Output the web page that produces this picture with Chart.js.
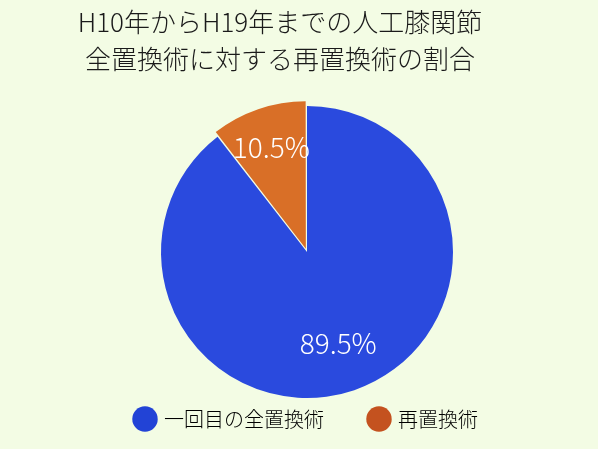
<!DOCTYPE html>
<html>
<head>
<meta charset="utf-8">
<script src="https://cdn.jsdelivr.net/npm/chart.js@4"></script>
<style>
  html, body { margin: 0; padding: 0; background: #f3fce4; }
  #wrap { position: relative; width: 598px; height: 449px; }
  #title {
    position: absolute; left: 0; top: 2px; width: 560px;
    text-align: center; font-family: "Noto Sans CJK JP", sans-serif;
    font-weight: 300; font-size: 26px; line-height: 37px; color: #1a1a1a;
  }
</style>
</head>
<body>
<div id="wrap">
  <canvas id="pieChart" width="598" height="449"></canvas>
  <div id="title">H10年からH19年までの人工膝関節<br>全置換術に対する再置換術の割合</div>
</div>
<script>
// Chart data
const categories = ['一回目の全置換術', '再置換術'];
const shares = [89.5, 10.5];
const sliceColors = ['#2a4ade', '#d96f27'];
const legendColors = ['#2243d6', '#c4521f'];
const sliceOffsets = [0, 14];

// draw the % text on each slice
const sliceLabels = {
    id: 'sliceLabels',
    afterDatasetsDraw(chart) {
        const ctx = chart.ctx;
        const meta = chart.getDatasetMeta(0);
        ctx.save();
        ctx.font = '300 28px "Noto Sans CJK JP", sans-serif';
        ctx.fillStyle = '#ffffff';
        ctx.textAlign = 'center';
        ctx.textBaseline = 'middle';
        meta.data.forEach((arc, i) => {
            const mid = (arc.startAngle + arc.endAngle) / 2;
            const r = arc.outerRadius * 0.66 + sliceOffsets[i];
            const x = arc.x + Math.cos(mid) * r;
            const y = arc.y + Math.sin(mid) * r;
            ctx.fillText(shares[i].toFixed(1) + '%', x, y);
        });
        ctx.restore();
    }
};

new Chart(document.getElementById('pieChart'), {
    type: 'pie',
    data: {
        labels: categories,
        datasets: [{
            data: shares,
            backgroundColor: sliceColors,
            borderWidth: 0,
            offset: sliceOffsets
        }]
    },
    options: {
        responsive: false,
        animation: false,
        radius: 146,
        layout: { padding: { top: 141, left: 16, right: 0, bottom: 10 } },
        plugins: {
            title: { display: false },
            tooltip: { enabled: false },
            legend: {
                position: 'bottom',
                labels: {
                    usePointStyle: true,
                    pointStyle: 'circle',
                    boxWidth: 18,
                    boxHeight: 18,
                    padding: 46,
                    color: '#1a1a1a',
                    font: { family: '"Noto Sans CJK JP", sans-serif', size: 20, weight: 300 },
                    generateLabels: (chart) => categories.map((c, i) => ({
                        text: c,
                        fillStyle: legendColors[i],
                        strokeStyle: legendColors[i],
                        lineWidth: 0,
                        pointStyle: 'circle',
                        index: i
                    }))
                }
            }
        }
    },
    plugins: [sliceLabels]
});
</script>
</body>
</html>
